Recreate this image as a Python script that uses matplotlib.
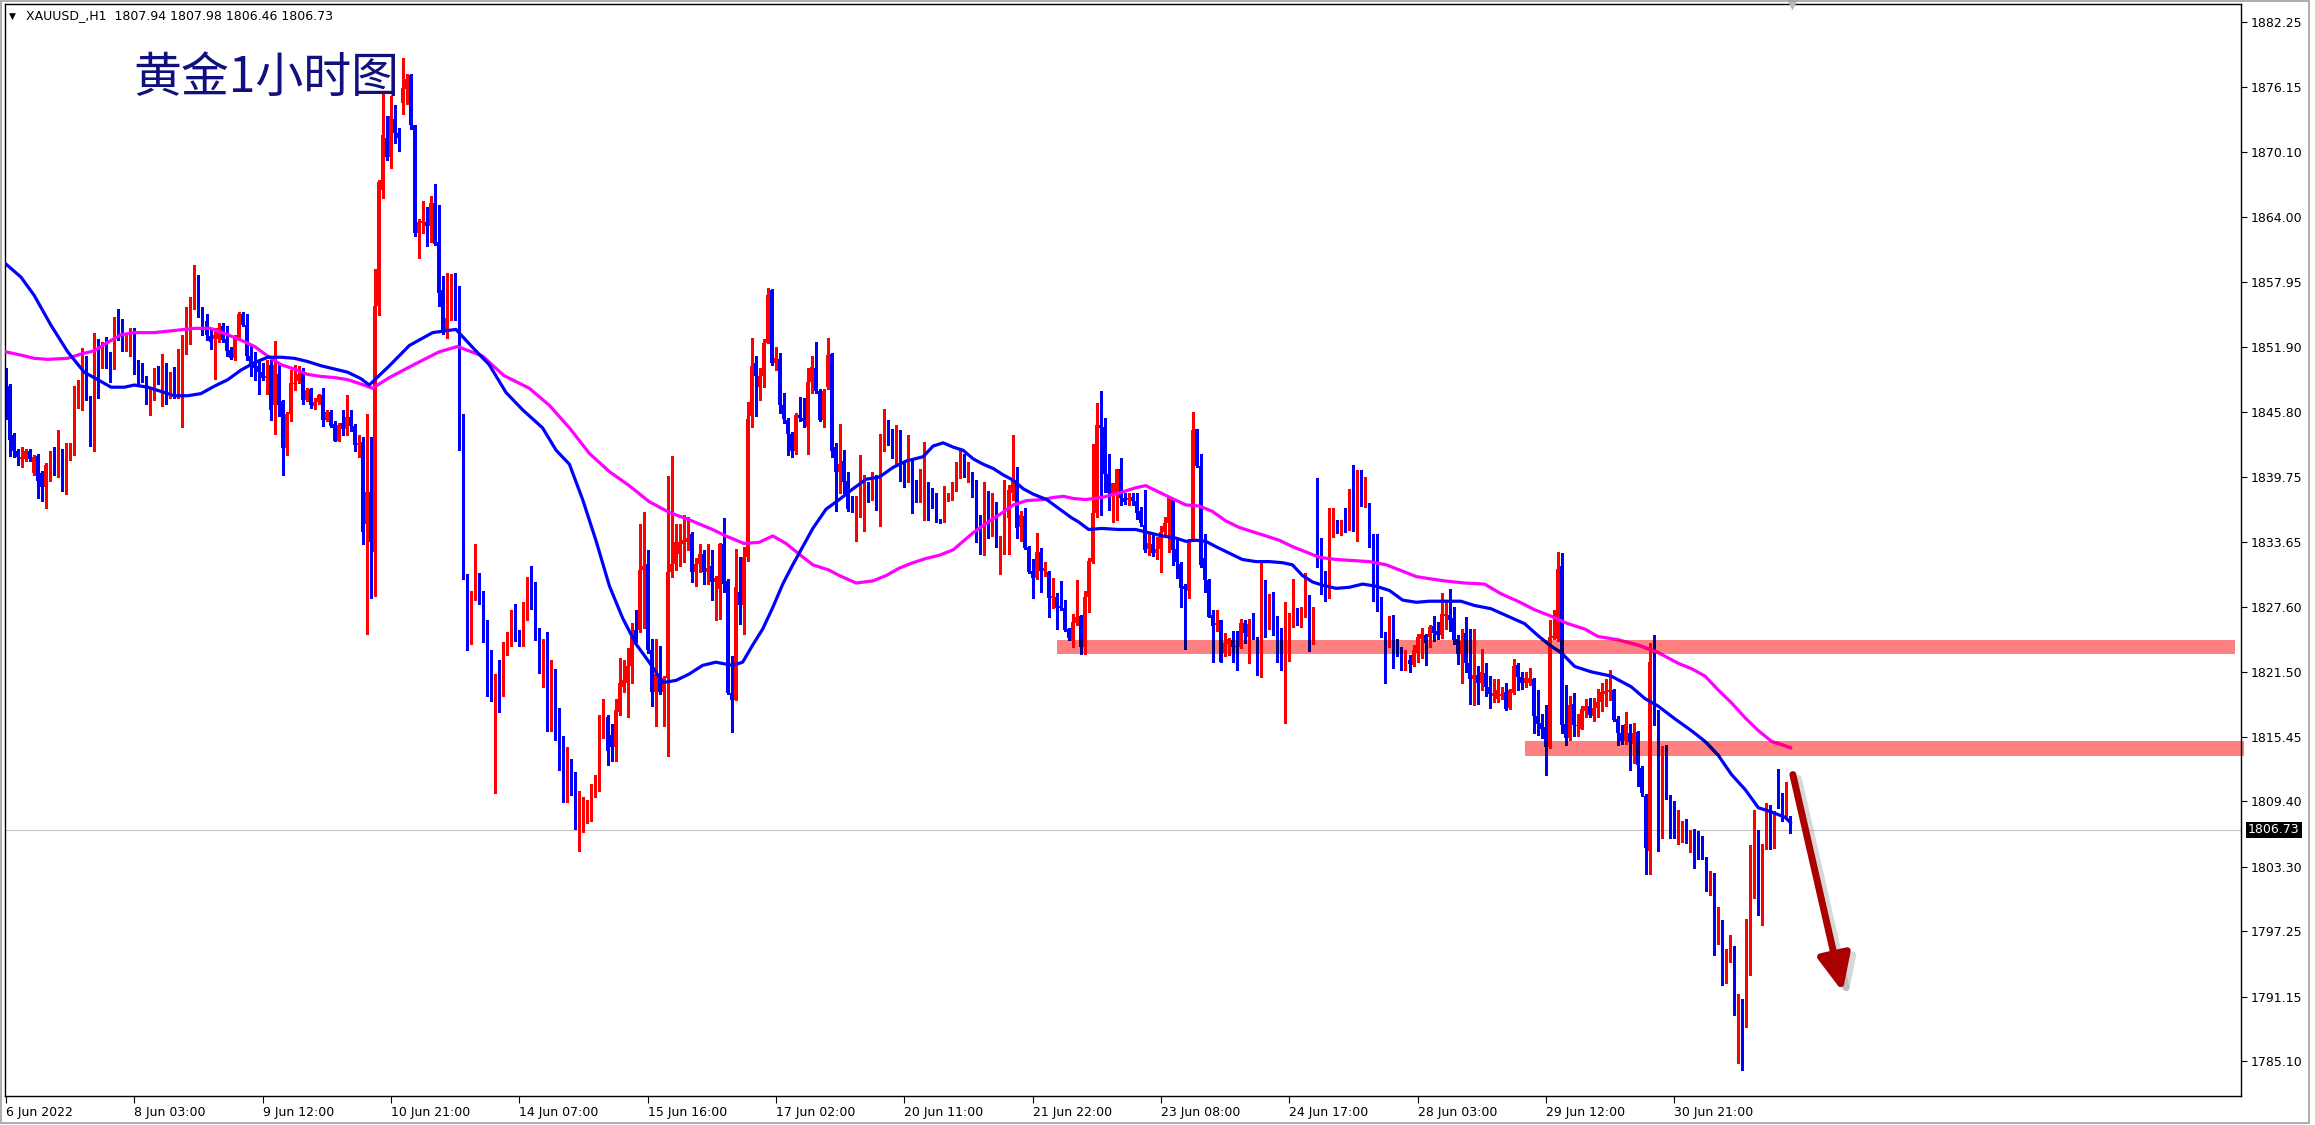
import numpy as np
import matplotlib
matplotlib.use('Agg')
from matplotlib import pyplot as plt
from matplotlib.patches import Rectangle
from matplotlib import transforms
import matplotlib.patheffects as pe

plt.rcParams['font.family'] = ['DejaVu Sans', 'Noto Sans CJK SC']

# %% data
symbol = 'XAUUSD_,H1'
last_ohlc = [1807.94, 1807.98, 1806.46, 1806.73]
title = '黄金1小时图'

opens = [
    1849.7, 1848.2, 1843.6, 1842.1, 1841.4, 1841.4, 1842.1, 1840.1, 1841.7, 1840.1,
    1838.8, 1840.6, 1841.4, 1839.9, 1842.1, 1838.6, 1841.4, 1841.9, 1846.4, 1847.1,
    1850.6, 1847.1, 1844.8, 1851.5, 1851.0, 1851.4, 1851.0, 1849.9, 1854.5, 1853.8,
    1852.1, 1852.5, 1853.4, 1849.9, 1849.1, 1848.9, 1846.6, 1847.4, 1849.4, 1849.3,
    1849.9, 1847.3, 1849.3, 1847.2, 1851.4, 1851.9, 1852.3, 1856.0, 1858.1, 1855.2,
    1854.3, 1852.9, 1852.6, 1852.6, 1853.8, 1852.6, 1851.6, 1850.8, 1852.8, 1854.9,
    1853.9, 1851.0, 1850.4, 1850.1, 1849.5, 1849.0, 1850.2, 1846.4, 1849.3, 1846.8,
    1842.4, 1845.6, 1848.4, 1848.7, 1849.5, 1846.9, 1847.9, 1846.3, 1846.7, 1847.4,
    1845.0, 1845.8, 1844.7, 1843.1, 1844.8, 1844.2, 1845.3, 1844.5, 1842.7, 1843.0,
    1835.3, 1838.3, 1832.7, 1855.7, 1866.5, 1871.4, 1869.6, 1873.2, 1871.9, 1874.7,
    1876.0, 1877.3, 1872.6, 1862.5, 1863.4, 1863.5, 1863.2, 1865.3, 1861.7, 1857.2,
    1853.3, 1854.6, 1858.0, 1854.4, 1842.6, 1830.4, 1827.1, 1828.7, 1828.7, 1828.7,
    1825.6, 1822.6, 1820.5, 1821.3, 1821.1, 1823.9, 1824.3, 1826.8, 1825.3, 1824.6,
    1827.8, 1829.9, 1827.6, 1824.5, 1823.9, 1824.5, 1817.0, 1819.8, 1815.8, 1813.8,
    1810.2, 1811.3, 1811.3, 1807.2, 1808.1, 1808.1, 1808.6, 1810.7, 1811.3, 1815.6,
    1817.3, 1815.6, 1814.5, 1817.7, 1820.1, 1820.5, 1822.0, 1825.4, 1825.4, 1831.0,
    1831.6, 1823.5, 1819.6, 1821.3, 1819.6, 1820.9, 1830.8, 1831.6, 1832.5, 1833.4,
    1833.6, 1834.4, 1830.8, 1831.6, 1832.5, 1830.8, 1831.4, 1829.9, 1829.2, 1833.4,
    1830.0, 1819.5, 1818.9, 1829.0, 1827.7, 1832.2, 1845.4, 1850.4, 1848.1, 1849.1,
    1852.2, 1857.2, 1850.4, 1850.7, 1846.4, 1845.0, 1843.7, 1842.1, 1845.5, 1845.2,
    1844.4, 1848.6, 1849.9, 1847.7, 1845.0, 1848.1, 1851.2, 1842.5, 1840.2, 1841.2,
    1839.3, 1836.7, 1836.5, 1836.8, 1838.2, 1838.9, 1838.5, 1839.6, 1836.7, 1842.3,
    1843.8, 1843.2, 1842.2, 1842.7, 1839.9, 1839.6, 1840.7, 1838.9, 1838.2, 1838.6,
    1839.2, 1838.2, 1838.1, 1835.6, 1835.7, 1837.6, 1837.9, 1838.8, 1840.9, 1841.3,
    1839.9, 1840.2, 1838.4, 1835.6, 1834.0, 1838.3, 1834.4, 1837.1, 1833.2, 1833.2,
    1835.9, 1838.2, 1839.4, 1835.0, 1836.1, 1833.2, 1830.9, 1830.3, 1832.7, 1830.9,
    1830.8, 1828.4, 1828.5, 1827.6, 1827.5, 1825.5, 1824.4, 1826.1, 1826.7, 1823.8,
    1828.5, 1831.8, 1836.3, 1844.6, 1844.4, 1840.0, 1837.9, 1838.2, 1840.5, 1837.7,
    1837.6, 1837.8, 1837.5, 1836.5, 1835.2, 1833.0, 1833.4, 1832.6, 1833.0, 1834.6,
    1835.4, 1837.6, 1833.0, 1831.6, 1829.5, 1829.1, 1833.8, 1844.2, 1840.7, 1832.1,
    1830.1, 1826.8, 1825.9, 1826.3, 1823.3, 1824.1, 1824.5, 1823.9, 1823.8, 1826.1,
    1824.8, 1826.0, 1824.6, 1823.1, 1829.8, 1825.9, 1828.7, 1825.0, 1824.8, 1821.8,
    1822.5, 1826.3, 1826.8, 1826.1, 1826.7, 1828.6, 1824.2, 1838.0, 1833.5, 1830.7,
    1828.8, 1834.6, 1835.6, 1835.0, 1835.3, 1835.3, 1838.2, 1834.8, 1839.5, 1837.1,
    1837.2, 1833.5, 1830.1, 1828.4, 1825.1, 1824.8, 1825.2, 1823.9, 1823.6, 1822.0,
    1822.6, 1822.1, 1823.3, 1824.6, 1824.9, 1824.8, 1825.8, 1825.3, 1824.9, 1826.7,
    1826.8, 1826.5, 1824.6, 1823.2, 1825.1, 1822.3, 1820.8, 1821.2, 1820.5, 1821.4,
    1820.1, 1819.2, 1819.0, 1819.2, 1819.6, 1818.1, 1819.5, 1822.1, 1821.0, 1820.5,
    1820.5, 1820.8, 1817.4, 1816.7, 1816.3, 1814.5, 1824.7, 1824.6, 1831.4, 1816.6,
    1815.3, 1818.5, 1816.4, 1816.2, 1817.8, 1818.3, 1817.4, 1818.1, 1818.7, 1819.4,
    1819.6, 1819.8, 1817.1, 1815.8, 1815.0, 1815.8, 1814.8, 1815.9, 1812.5, 1809.9,
    1804.8, 1822.3, 1816.8, 1808.8, 1814.2, 1809.7, 1808.3, 1806.6, 1806.7, 1807.2,
    1806.0, 1806.3, 1806.1, 1804.4, 1804.1, 1801.1, 1802.6, 1797.1, 1797.8, 1794.4,
    1794.5, 1795.6, 1789.5, 1790.8, 1789.6, 1794.3, 1800.6, 1806.3, 1799.0, 1805.0,
    1808.8, 1805.1, 1811.9, 1809.8, 1807.9, 1807.94]

highs = [
    1849.9, 1848.4, 1843.8, 1842.3, 1842.5, 1842.3, 1842.3, 1841.8, 1841.9, 1840.3,
    1841.0, 1842.1, 1842.5, 1844.1, 1842.3, 1842.9, 1842.9, 1848.2, 1848.8, 1851.8,
    1851.0, 1847.3, 1853.2, 1852.6, 1852.3, 1852.8, 1851.4, 1854.7, 1855.4, 1854.5,
    1853.0, 1853.6, 1853.6, 1850.6, 1850.4, 1849.1, 1848.0, 1849.9, 1850.1, 1851.2,
    1850.4, 1849.5, 1850.0, 1851.7, 1853.0, 1855.6, 1856.5, 1859.5, 1858.6, 1855.6,
    1854.9, 1853.6, 1853.6, 1854.1, 1854.1, 1853.8, 1851.9, 1853.0, 1855.1, 1855.1,
    1854.9, 1852.1, 1851.4, 1850.6, 1850.4, 1850.6, 1850.6, 1852.4, 1850.4, 1846.9,
    1845.8, 1849.7, 1850.2, 1850.1, 1849.9, 1848.0, 1848.0, 1847.1, 1847.5, 1848.0,
    1846.0, 1846.0, 1844.9, 1844.8, 1846.0, 1847.4, 1846.0, 1844.7, 1843.6, 1843.4,
    1845.6, 1843.4, 1859.1, 1867.5, 1875.7, 1873.4, 1875.3, 1874.5, 1872.3, 1878.9,
    1877.4, 1877.4, 1872.6, 1863.8, 1865.5, 1864.9, 1866.0, 1867.1, 1865.1, 1858.5,
    1858.8, 1858.7, 1858.8, 1857.6, 1845.6, 1830.6, 1829.1, 1833.4, 1830.7, 1829.1,
    1826.3, 1823.5, 1821.3, 1822.6, 1824.3, 1825.2, 1827.3, 1827.8, 1825.4, 1828.0,
    1830.4, 1831.4, 1829.9, 1825.6, 1824.6, 1825.2, 1822.6, 1821.8, 1818.1, 1815.5,
    1814.5, 1813.4, 1812.1, 1810.4, 1809.8, 1809.5, 1811.0, 1811.9, 1817.5, 1819.0,
    1817.5, 1816.6, 1819.0, 1822.8, 1822.6, 1823.7, 1826.1, 1827.3, 1835.3, 1836.4,
    1832.9, 1824.6, 1824.6, 1823.9, 1821.1, 1839.8, 1841.7, 1835.3, 1835.3, 1836.2,
    1836.0, 1834.6, 1832.1, 1833.4, 1832.9, 1833.4, 1832.9, 1830.5, 1833.5, 1835.9,
    1830.2, 1823.0, 1833.0, 1832.2, 1833.2, 1846.7, 1852.7, 1851.0, 1849.9, 1852.6,
    1857.4, 1857.3, 1851.9, 1851.3, 1847.6, 1845.2, 1843.9, 1845.7, 1847.2, 1847.1,
    1849.9, 1851.0, 1852.3, 1847.9, 1847.9, 1852.7, 1851.3, 1842.9, 1844.7, 1842.2,
    1840.2, 1837.9, 1837.9, 1841.8, 1839.9, 1839.2, 1840.2, 1839.9, 1843.7, 1846.1,
    1845.0, 1844.2, 1844.6, 1844.1, 1841.1, 1843.6, 1841.4, 1839.4, 1840.5, 1843.0,
    1839.2, 1838.7, 1838.2, 1835.8, 1838.9, 1838.2, 1839.2, 1841.1, 1842.2, 1841.9,
    1841.1, 1840.2, 1839.4, 1836.2, 1839.2, 1838.4, 1838.2, 1837.4, 1834.2, 1839.4,
    1839.0, 1843.6, 1840.6, 1836.5, 1836.8, 1833.3, 1832.0, 1834.5, 1833.1, 1831.8,
    1830.9, 1830.3, 1828.9, 1830.0, 1828.2, 1825.6, 1826.9, 1830.1, 1826.8, 1829.1,
    1832.1, 1842.8, 1846.6, 1847.7, 1845.2, 1841.9, 1839.1, 1840.5, 1841.5, 1838.2,
    1838.2, 1838.2, 1838.2, 1836.9, 1838.5, 1834.4, 1834.3, 1834.1, 1835.1, 1836.0,
    1837.7, 1837.7, 1833.8, 1831.8, 1829.7, 1833.9, 1845.8, 1844.2, 1841.9, 1834.4,
    1830.2, 1827.3, 1827.3, 1826.3, 1825.1, 1824.7, 1825.3, 1825.3, 1826.4, 1826.3,
    1826.4, 1827.0, 1824.8, 1831.7, 1830.1, 1828.8, 1829.0, 1826.7, 1825.6, 1828.0,
    1827.0, 1830.2, 1827.5, 1827.6, 1830.7, 1828.7, 1827.6, 1839.6, 1834.0, 1830.9,
    1836.8, 1836.8, 1835.7, 1835.7, 1836.8, 1838.6, 1840.8, 1840.4, 1840.4, 1839.7,
    1837.3, 1834.4, 1834.4, 1828.5, 1825.2, 1826.7, 1826.8, 1824.6, 1823.8, 1823.5,
    1823.1, 1824.0, 1825.0, 1825.6, 1825.0, 1825.9, 1826.7, 1826.2, 1828.9, 1828.0,
    1829.2, 1827.6, 1824.9, 1825.5, 1826.6, 1825.5, 1825.5, 1822.0, 1823.6, 1822.3,
    1821.1, 1820.8, 1820.8, 1820.1, 1820.5, 1819.9, 1822.7, 1822.3, 1821.5, 1821.5,
    1821.9, 1820.9, 1819.8, 1817.6, 1818.4, 1826.3, 1827.3, 1832.7, 1832.6, 1820.3,
    1819.2, 1819.5, 1817.6, 1818.3, 1819.0, 1819.1, 1819.1, 1819.9, 1820.5, 1820.8,
    1821.7, 1819.9, 1817.4, 1816.5, 1817.7, 1816.6, 1816.7, 1816.0, 1812.7, 1810.1,
    1824.2, 1824.9, 1817.9, 1814.6, 1814.7, 1810.0, 1809.4, 1808.6, 1807.6, 1807.7,
    1806.7, 1806.8, 1806.6, 1806.2, 1804.2, 1802.9, 1802.7, 1799.5, 1798.3, 1795.6,
    1796.9, 1795.9, 1791.4, 1790.9, 1798.4, 1805.3, 1808.6, 1806.7, 1805.4, 1809.2,
    1809.1, 1808.5, 1812.4, 1810.2, 1811.2, 1807.98]

lows = [
    1845.1, 1841.7, 1841.6, 1840.8, 1840.6, 1841.2, 1841.2, 1839.9, 1837.7, 1837.5,
    1836.8, 1839.3, 1839.9, 1839.7, 1838.4, 1838.1, 1841.3, 1841.8, 1846.2, 1846.0,
    1846.9, 1842.6, 1842.1, 1847.1, 1849.9, 1849.9, 1848.6, 1849.8, 1852.5, 1851.5,
    1851.5, 1851.0, 1849.3, 1848.4, 1848.6, 1846.5, 1845.5, 1846.9, 1848.4, 1846.3,
    1846.5, 1847.1, 1847.1, 1847.1, 1844.4, 1851.2, 1852.1, 1855.4, 1854.7, 1853.0,
    1852.5, 1851.7, 1848.9, 1852.3, 1852.3, 1851.0, 1850.7, 1850.6, 1852.5, 1853.8,
    1850.6, 1849.1, 1848.8, 1847.5, 1848.8, 1847.5, 1845.0, 1843.7, 1845.4, 1839.9,
    1841.8, 1844.9, 1847.8, 1848.5, 1846.5, 1846.8, 1846.2, 1846.1, 1846.5, 1844.5,
    1844.9, 1844.4, 1843.1, 1843.1, 1843.6, 1843.6, 1844.0, 1842.1, 1841.6, 1833.4,
    1825.0, 1828.4, 1828.6, 1854.8, 1865.8, 1869.3, 1868.6, 1870.9, 1870.2, 1873.6,
    1874.6, 1872.2, 1862.2, 1860.2, 1862.5, 1861.3, 1861.7, 1861.4, 1855.7, 1853.1,
    1852.7, 1854.4, 1854.4, 1842.2, 1830.2, 1823.5, 1824.1, 1828.2, 1827.8, 1824.3,
    1819.2, 1818.8, 1810.2, 1817.7, 1819.2, 1823.1, 1823.9, 1824.4, 1823.9, 1823.9,
    1826.3, 1827.4, 1824.5, 1821.4, 1820.1, 1816.0, 1816.0, 1815.1, 1812.3, 1809.3,
    1809.3, 1810.0, 1806.8, 1804.8, 1806.5, 1807.4, 1807.6, 1809.8, 1810.4, 1815.3,
    1812.8, 1813.2, 1813.2, 1817.5, 1819.6, 1817.3, 1820.5, 1824.3, 1825.2, 1825.6,
    1823.3, 1818.3, 1816.4, 1819.4, 1816.4, 1813.6, 1830.4, 1831.0, 1831.4, 1831.8,
    1832.9, 1829.9, 1829.5, 1830.8, 1829.7, 1829.7, 1828.2, 1826.3, 1826.4, 1829.0,
    1819.4, 1815.9, 1818.9, 1826.0, 1825.0, 1831.9, 1844.4, 1845.4, 1846.9, 1848.1,
    1852.2, 1850.2, 1849.7, 1845.7, 1844.8, 1841.8, 1841.6, 1841.9, 1844.9, 1844.4,
    1841.9, 1847.6, 1847.6, 1844.9, 1844.4, 1847.9, 1841.6, 1836.5, 1838.2, 1838.2,
    1836.5, 1836.4, 1833.7, 1836.0, 1834.7, 1837.4, 1837.6, 1836.6, 1835.1, 1842.1,
    1842.7, 1841.5, 1840.9, 1839.3, 1838.8, 1839.2, 1836.3, 1837.4, 1837.4, 1835.7,
    1835.7, 1836.8, 1835.5, 1835.4, 1835.5, 1837.5, 1837.6, 1838.4, 1839.6, 1839.7,
    1839.2, 1837.8, 1833.6, 1832.5, 1832.4, 1834.0, 1834.2, 1833.2, 1830.6, 1832.5,
    1832.5, 1837.6, 1834.0, 1833.7, 1833.0, 1830.7, 1828.4, 1830.2, 1829.0, 1830.5,
    1826.6, 1827.5, 1825.5, 1827.3, 1825.3, 1824.5, 1823.8, 1825.9, 1823.2, 1823.2,
    1827.1, 1831.7, 1836.0, 1836.2, 1838.3, 1836.6, 1835.5, 1835.7, 1837.1, 1837.2,
    1837.1, 1837.1, 1835.8, 1835.1, 1832.7, 1832.4, 1832.3, 1832.0, 1830.8, 1834.1,
    1832.7, 1831.5, 1830.3, 1827.6, 1823.6, 1828.4, 1833.7, 1840.6, 1831.3, 1829.0,
    1826.6, 1822.4, 1825.3, 1822.4, 1823.0, 1823.1, 1822.4, 1821.7, 1823.7, 1824.2,
    1822.3, 1824.6, 1821.2, 1821.0, 1824.8, 1825.5, 1824.9, 1822.4, 1821.7, 1816.7,
    1822.5, 1825.7, 1825.9, 1825.7, 1826.6, 1823.4, 1824.1, 1831.3, 1828.8, 1828.1,
    1828.4, 1834.1, 1834.5, 1834.3, 1834.6, 1834.8, 1834.7, 1833.7, 1837.0, 1836.9,
    1833.2, 1828.1, 1827.2, 1824.8, 1820.5, 1823.8, 1821.9, 1823.0, 1821.7, 1821.7,
    1821.5, 1822.0, 1822.4, 1822.8, 1822.1, 1823.8, 1824.4, 1824.6, 1824.7, 1825.5,
    1825.3, 1824.1, 1822.2, 1820.5, 1821.5, 1818.5, 1818.4, 1818.5, 1819.8, 1819.2,
    1818.1, 1818.7, 1818.7, 1819.0, 1817.9, 1818.0, 1819.4, 1819.8, 1819.9, 1820.1,
    1820.3, 1815.8, 1815.6, 1815.3, 1811.9, 1814.4, 1824.6, 1824.4, 1815.8, 1814.7,
    1815.1, 1815.5, 1815.5, 1816.2, 1817.3, 1817.3, 1816.9, 1817.3, 1817.8, 1818.3,
    1818.9, 1816.9, 1814.7, 1814.8, 1814.8, 1812.3, 1813.0, 1810.8, 1809.9, 1802.6,
    1802.6, 1816.5, 1804.8, 1806.0, 1809.6, 1806.0, 1806.0, 1805.4, 1805.6, 1805.5,
    1804.7, 1803.2, 1804.0, 1804.0, 1801.0, 1800.6, 1795.0, 1796.1, 1792.2, 1792.4,
    1794.4, 1789.4, 1784.9, 1784.3, 1788.3, 1793.2, 1800.4, 1798.8, 1797.8, 1804.9,
    1804.9, 1805.0, 1808.8, 1807.6, 1807.8, 1806.46]

closes = [
    1845.3, 1843.2, 1842.1, 1841.6, 1841.6, 1842.1, 1841.4, 1841.6, 1839.3, 1838.8,
    1840.8, 1841.4, 1840.1, 1842.1, 1838.6, 1841.4, 1841.9, 1846.4, 1847.1, 1850.4,
    1847.1, 1844.8, 1851.4, 1851.0, 1851.4, 1850.8, 1849.9, 1854.1, 1854.1, 1853.0,
    1852.5, 1853.4, 1850.1, 1849.1, 1848.7, 1846.6, 1847.4, 1849.4, 1849.3, 1849.9,
    1847.3, 1849.4, 1847.2, 1851.4, 1851.9, 1852.5, 1856.0, 1858.3, 1855.2, 1854.5,
    1853.0, 1852.3, 1853.0, 1853.6, 1852.5, 1851.5, 1850.8, 1852.8, 1854.9, 1853.9,
    1851.0, 1850.2, 1849.9, 1849.5, 1849.0, 1849.1, 1846.0, 1850.2, 1846.4, 1842.4,
    1845.6, 1848.5, 1848.5, 1849.3, 1846.9, 1847.8, 1846.4, 1846.7, 1847.4, 1845.0,
    1845.8, 1844.5, 1843.1, 1844.6, 1844.2, 1845.3, 1844.5, 1842.7, 1842.9, 1834.6,
    1838.3, 1833.6, 1855.7, 1867.3, 1871.7, 1869.6, 1873.4, 1871.9, 1871.4, 1876.1,
    1876.9, 1872.6, 1862.5, 1863.5, 1863.6, 1863.2, 1865.3, 1861.5, 1856.9, 1853.3,
    1854.6, 1858.0, 1854.6, 1842.8, 1830.6, 1827.4, 1828.9, 1828.9, 1828.4, 1825.6,
    1822.6, 1820.3, 1821.1, 1820.9, 1824.1, 1824.3, 1826.8, 1825.0, 1824.6, 1827.8,
    1829.9, 1827.8, 1825.6, 1823.9, 1824.5, 1817.0, 1819.6, 1815.8, 1813.8, 1810.2,
    1812.3, 1810.2, 1807.0, 1808.3, 1808.2, 1808.6, 1810.8, 1811.3, 1815.8, 1817.3,
    1814.1, 1814.5, 1817.9, 1820.5, 1820.7, 1822.0, 1824.8, 1824.6, 1831.0, 1831.4,
    1823.5, 1819.6, 1821.3, 1819.6, 1820.9, 1830.8, 1831.6, 1833.6, 1833.6, 1833.8,
    1834.0, 1830.8, 1831.6, 1832.5, 1830.8, 1831.2, 1829.9, 1830.3, 1833.4, 1829.7,
    1819.5, 1818.9, 1829.4, 1827.7, 1832.2, 1845.1, 1850.1, 1849.1, 1849.1, 1852.2,
    1856.7, 1850.4, 1850.8, 1846.4, 1845.1, 1843.7, 1842.1, 1845.5, 1845.2, 1844.9,
    1848.6, 1850.0, 1847.7, 1845.0, 1847.7, 1851.1, 1842.1, 1840.2, 1840.9, 1839.2,
    1836.7, 1836.5, 1836.8, 1840.2, 1839.1, 1838.4, 1839.8, 1836.7, 1842.3, 1843.8,
    1843.2, 1842.2, 1842.7, 1839.9, 1839.6, 1840.7, 1838.9, 1837.9, 1838.9, 1839.2,
    1838.2, 1838.0, 1835.6, 1835.5, 1838.4, 1838.1, 1839.1, 1840.9, 1841.3, 1839.9,
    1840.2, 1838.5, 1835.0, 1834.0, 1838.3, 1834.2, 1837.1, 1833.2, 1833.4, 1836.0,
    1838.5, 1839.3, 1834.9, 1836.2, 1833.1, 1830.8, 1830.3, 1832.7, 1830.9, 1831.2,
    1828.4, 1828.6, 1827.5, 1827.5, 1825.4, 1824.7, 1826.2, 1826.6, 1823.8, 1828.5,
    1831.9, 1836.3, 1844.6, 1844.3, 1840.0, 1838.2, 1839.1, 1840.5, 1837.7, 1837.4,
    1837.7, 1837.5, 1836.3, 1835.4, 1832.9, 1833.5, 1832.6, 1833.0, 1834.6, 1835.4,
    1837.7, 1832.9, 1831.8, 1829.3, 1829.2, 1833.8, 1844.1, 1840.7, 1831.5, 1830.1,
    1826.6, 1825.8, 1826.0, 1822.4, 1824.2, 1824.6, 1823.8, 1823.8, 1826.1, 1825.1,
    1826.0, 1824.7, 1823.1, 1829.9, 1825.9, 1828.7, 1825.0, 1824.7, 1821.8, 1822.5,
    1826.3, 1826.9, 1826.1, 1826.7, 1828.5, 1823.9, 1827.3, 1833.4, 1830.7, 1828.8,
    1834.6, 1835.5, 1834.8, 1835.4, 1835.1, 1838.1, 1834.8, 1839.5, 1837.2, 1837.2,
    1833.7, 1830.1, 1827.3, 1824.9, 1824.9, 1825.2, 1823.8, 1823.5, 1822.1, 1822.4,
    1822.2, 1823.5, 1824.8, 1825.0, 1824.2, 1825.7, 1825.1, 1824.9, 1826.9, 1826.9,
    1826.3, 1824.5, 1823.2, 1824.4, 1822.3, 1820.8, 1821.2, 1820.5, 1821.5, 1820.1,
    1819.4, 1819.5, 1819.8, 1819.4, 1818.0, 1819.8, 1822.0, 1821.0, 1820.5, 1820.9,
    1820.9, 1817.4, 1816.6, 1816.2, 1814.5, 1824.8, 1824.8, 1831.1, 1816.5, 1815.3,
    1818.4, 1816.5, 1816.5, 1818.0, 1818.3, 1817.5, 1818.1, 1818.7, 1819.6, 1819.7,
    1819.8, 1817.0, 1815.8, 1815.0, 1816.6, 1814.9, 1815.8, 1812.8, 1810.2, 1805.0,
    1822.4, 1816.8, 1808.7, 1814.2, 1809.7, 1808.2, 1806.4, 1807.0, 1807.1, 1806.0,
    1806.4, 1806.0, 1804.2, 1804.1, 1801.2, 1802.8, 1797.2, 1797.9, 1794.4, 1794.7,
    1795.5, 1789.4, 1790.3, 1789.6, 1794.0, 1800.6, 1806.2, 1799.1, 1804.7, 1808.9,
    1805.0, 1808.3, 1809.8, 1807.8, 1808.0, 1806.73]

# moving averages (bar index, price)
ma_fast_bar = [0, 3.7, 7, 11.2, 15.4, 19.5, 22.9, 26.2, 29.5, 32, 35.3, 38.7, 42, 45.3,
               48.6, 52, 55.3, 58.6, 62, 65.3, 68.6, 71.9, 75.2, 78.6, 81.9, 85.2, 88.5,
               90.6, 95.6, 100.6, 106.4, 112.2, 116.4, 120.5, 124.7, 128.8, 133.8, 137.2,
               140.5, 143.8, 147.1, 150.5, 153.8, 157.1, 160.4, 163.8, 167.1, 170.4, 173.7,
               177, 181.2, 183.7, 186.2, 188.7, 191.2, 193.7, 196.2, 198.7, 201.2, 204.5,
               207.8, 211.2, 214.5, 217.8, 221.2, 224.5, 228.7, 231.2, 233.7, 236.2, 238.7,
               241.2, 243.7, 246.2, 248.7, 251.2, 253.7, 256.2, 259.5, 262.8, 265.7, 267.5,
               270, 273.3, 277.5, 281.7, 285, 288.3, 291.7, 294.2, 296.7, 299.2, 301.7, 305,
               308.3, 311.7, 315, 318.3, 320.8, 323.3, 325.8, 328.3, 331.7, 335, 338.3,
               341.7, 345, 348.3, 351.7, 355, 358.7, 362.8, 366.2, 370.3, 374.5, 378.7,
               382, 385.3, 387.8, 391.2, 395.3, 400.3, 405.3, 408.7, 412, 416.2, 420.3,
               423.7, 427, 430.3, 433.7, 437, 440.3, 443.7, 445]
ma_fast = [1859.6, 1858.4, 1856.7, 1853.9, 1851.4, 1849.5, 1848.8, 1848.1, 1848.1, 1848.3,
           1848.1, 1847.7, 1847.3, 1847.3, 1847.5, 1848.2, 1848.8, 1849.7, 1850.4, 1850.9,
           1850.9, 1850.8, 1850.5, 1850.1, 1849.8, 1849.5, 1848.9, 1848.3, 1850.1, 1852.0,
           1853.2, 1853.5, 1851.8, 1850.2, 1847.6, 1846.0, 1844.3, 1842.2, 1840.9, 1837.6,
           1833.8, 1829.5, 1826.5, 1824.1, 1822.4, 1820.5, 1820.7, 1821.3, 1822.1, 1822.4,
           1822.1, 1822.4, 1824.0, 1825.5, 1827.5, 1829.7, 1831.5, 1833.2, 1834.9, 1836.7,
           1837.6, 1838.6, 1839.5, 1839.7, 1840.6, 1841.2, 1841.6, 1842.6, 1842.9, 1842.5,
           1842.2, 1841.4, 1840.9, 1840.5, 1839.9, 1839.4, 1838.6, 1838.1, 1837.6, 1836.7,
           1835.9, 1835.5, 1834.8, 1834.9, 1834.8, 1834.8, 1834.5, 1834.2, 1834.0, 1833.7,
           1833.8, 1833.7, 1833.2, 1832.6, 1832.0, 1831.8, 1831.8, 1831.7, 1831.5, 1830.5,
           1829.9, 1829.6, 1829.3, 1829.4, 1829.7, 1829.5, 1829.1, 1828.2, 1828.0, 1828.1,
           1828.1, 1828.1, 1827.7, 1827.4, 1826.7, 1826.0, 1824.9, 1823.9, 1823.3, 1822.0,
           1821.5, 1821.1, 1820.1, 1819.0, 1818.3, 1817.1, 1816.0, 1815.0, 1813.7, 1811.9,
           1810.5, 1808.8, 1808.4, 1807.9, 1807.4]

ma_slow_bar = [0, 3.7, 7, 10.4, 15.4, 18.7, 22, 25.4, 28.7, 32, 37, 42, 47, 51, 55.3, 58.6,
               62, 65.3, 68.6, 71.9, 75.2, 78.6, 81.9, 85.2, 88.5, 91.4, 95.6, 102.2, 108,
               112.6, 118.9, 124.1, 130.5, 135.5, 140.5, 145.5, 150.5, 155.4, 160.4, 165.4,
               170.4, 176.2, 179.5, 184, 187.8, 191.2, 194.5, 197.8, 201.2, 205.3, 207.8,
               212, 216.2, 219.5, 222.8, 226.2, 229.5, 232.8, 236.2, 238.7, 241.2, 244.5,
               247.8, 251.2, 254.5, 258.7, 261.2, 263.7, 266.2, 269.2, 273.3, 277.5, 281.7,
               284.2, 287.5, 290.8, 294.2, 297.5, 300.8, 304.2, 307.5, 310.8, 314.2, 317.5,
               320.8, 324.2, 327.5, 331.7, 335.8, 340, 344.2, 348.3, 351.7, 355, 358.7,
               363.7, 368.7, 372.8, 377, 381.2, 385.3, 389.5, 393.7, 397, 402, 407, 412,
               417, 420.3, 423.7, 427, 430.3, 433.7, 437, 440.3, 442.8, 445]
ma_slow = [1851.4, 1851.1, 1850.8, 1850.7, 1850.8, 1851.2, 1851.5, 1852.3, 1853.0, 1853.2,
           1853.2, 1853.4, 1853.6, 1853.6, 1853.0, 1852.5, 1851.9, 1851.0, 1850.2, 1849.8,
           1849.3, 1849.1, 1849.0, 1848.8, 1848.4, 1848.0, 1849.0, 1850.3, 1851.4, 1851.9,
           1851.0, 1849.2, 1848.0, 1846.4, 1844.3, 1841.9, 1840.2, 1838.9, 1837.4, 1836.4,
           1835.7, 1834.8, 1834.2, 1833.5, 1833.6, 1834.2, 1833.5, 1832.5, 1831.5, 1831.0,
           1830.5, 1829.8, 1830.0, 1830.5, 1831.2, 1831.7, 1832.1, 1832.4, 1832.9, 1833.7,
           1834.5, 1835.4, 1836.2, 1837.1, 1837.5, 1837.6, 1837.8, 1837.9, 1837.7, 1837.6,
           1837.8, 1838.2, 1838.7, 1838.9, 1838.3, 1837.7, 1837.1, 1837.0, 1836.5, 1835.6,
           1835.0, 1834.6, 1834.2, 1833.8, 1833.2, 1832.7, 1832.2, 1832.0, 1831.9, 1831.8,
           1831.5, 1830.9, 1830.4, 1830.2, 1830.0, 1829.8, 1829.7, 1828.8, 1828.1, 1827.3,
           1826.7, 1826.0, 1825.5, 1824.8, 1824.5, 1824.0, 1823.3, 1822.3, 1821.8, 1821.1,
           1819.8, 1818.6, 1817.2, 1816.0, 1815.0, 1814.7, 1814.4]

time_labels = ['6 Jun 2022', '8 Jun 03:00', '9 Jun 12:00', '10 Jun 21:00', '14 Jun 07:00',
               '15 Jun 16:00', '17 Jun 02:00', '20 Jun 11:00', '21 Jun 22:00',
               '23 Jun 08:00', '24 Jun 17:00', '28 Jun 03:00', '29 Jun 12:00',
               '30 Jun 21:00']
label_step = 32

price_ticks = [1882.25, 1876.15, 1870.10, 1864.00, 1857.95, 1851.90, 1845.80, 1839.75,
               1833.65, 1827.60, 1821.50, 1815.45, 1809.40, 1803.30, 1797.25, 1791.15,
               1785.10]

# drawn zones (start bar, end bar, low, high) and arrow
zone_start = [262.1, 378.8]
zone_end = [555.9, 558.0]
zone_low = [1823.16, 1813.66]
zone_high = [1824.47, 1815.03]
arrow_from = (445.6, 1811.9)
arrow_to = (458.0, 1791.6)
shift_mark = 445.4  # chart shift marker (bar)

# %% plot
W, H = 2315, 1125
fig = plt.figure(figsize=(W / 100, H / 100), dpi=100)
ax = fig.add_axes([5 / W, 1 - 1096 / H, 2236 / W, 1092 / H])
px = 4.01  # pixels per bar

o, h, l, c = (np.array(v) for v in (opens, highs, lows, closes))
x = np.arange(len(c))
up = c >= o


def draw_candles(col_up, col_dn, z, clip=None):
    arts = []
    for mask, col in ((up, col_up), (~up, col_dn)):
        wick = ax.vlines(x[mask], l[mask], h[mask], colors=col, lw=1.0, zorder=z,
                         antialiased=False)
        arts.append(wick)
        bottom = np.minimum(o, c)[mask]
        height = np.maximum(np.abs(c - o)[mask], 0.12)
        bars = ax.bar(x[mask], height, bottom=bottom, width=0.8, color=col, lw=0,
                      zorder=z, antialiased=False)
        arts.extend(bars.patches)
    if clip is not None:
        for a in arts:
            a.set_clip_path(clip)


ax.axhline(last_ohlc[3], color='#C0C0C0', lw=0.8, zorder=0.5)

clips = []
for s, e, lo, hi in zip(zone_start, zone_end, zone_low, zone_high):
    ax.add_patch(Rectangle((s, lo), e - s, hi - lo, facecolor='#FF8080',
                           edgecolor='none', zorder=1, clip_on=False))
    clips.append(Rectangle((s, lo), e - s, hi - lo, transform=ax.transData))

draw_candles('#FF0000', '#0000FF', 2)
ax.plot(ma_slow_bar, ma_slow, color='#FF00FF', lw=2.3, zorder=4)
ax.plot(ma_fast_bar, ma_fast, color='#0000FF', lw=2.3, zorder=4)

# colours seen through the zones
for cp in clips:
    draw_candles('#FF0000', '#000080', 5, clip=cp)
    ln, = ax.plot(ma_slow_bar, ma_slow, color='#FF0080', lw=2.3, zorder=6)
    ln.set_clip_path(cp)
    ln, = ax.plot(ma_fast_bar, ma_fast, color='#000080', lw=2.3, zorder=6)
    ln.set_clip_path(cp)

ax.annotate('', xy=arrow_to, xytext=arrow_from, zorder=7,
            arrowprops=dict(arrowstyle='-|>,head_length=1.0,head_width=0.45',
                            color='#AA0000', lw=5, mutation_scale=22,
                            shrinkA=0, shrinkB=0,
                            path_effects=[pe.SimpleLineShadow(offset=(4, -3), alpha=0.3,
                                                              shadow_color='#808080'),
                                          pe.Normal()]))

ax.set_xlim(-0.25, -0.25 + 2236 / px)
ax.set_ylim(1781.86, 1883.91)

# chart shift marker on the top border
ax.plot([shift_mark], [1], marker='v', ms=8, color='#B8B8B8', mec='none', clip_on=False,
        transform=transforms.blended_transform_factory(ax.transData, ax.transAxes),
        zorder=8)

ax.set_xticks(np.arange(len(time_labels)) * label_step)
ax.set_xticklabels(time_labels, ha='left')
ax.tick_params(axis='x', direction='out', length=5, width=0.8, pad=2, labelsize=9,
               colors='black')
ax.yaxis.tick_right()
ax.set_yticks(price_ticks)
ax.set_yticklabels(['%.2f' % t for t in price_ticks])
ax.tick_params(axis='y', direction='out', length=4, width=0.8, pad=3, labelsize=9)
for sp in ax.spines.values():
    sp.set_linewidth(1.0)

# current price tag
tr = transforms.blended_transform_factory(ax.transAxes, ax.transData)
ax.text(1 + 7 / 2236, last_ohlc[3], '%.2f' % last_ohlc[3], transform=tr, ha='left',
        va='center', color='white', fontsize=9,
        bbox=dict(facecolor='black', edgecolor='none', boxstyle='square,pad=0.15'))

# window frame
fig.add_artist(Rectangle((1 / W, 2 / H), 2308 / W, 1122 / H, transform=fig.transFigure,
                         fill=False, edgecolor='#A0A0A0', lw=1.2))

# header and title
fig.text(9 / W, 1 - 16 / H, '▼', fontsize=6.5, va='center', ha='left')
fig.text(26 / W, 1 - 16 / H, '%s  %s' % (symbol, ' '.join('%.2f' % v for v in last_ohlc)),
         fontsize=9, va='center', ha='left')
fig.text(133 / W, 1 - 78 / H, title, fontsize=34.5, color='#10107F', va='center',
         ha='left', family=['Noto Sans CJK SC', 'DejaVu Sans'])

fig.savefig('out.png', dpi=100, facecolor='white')
